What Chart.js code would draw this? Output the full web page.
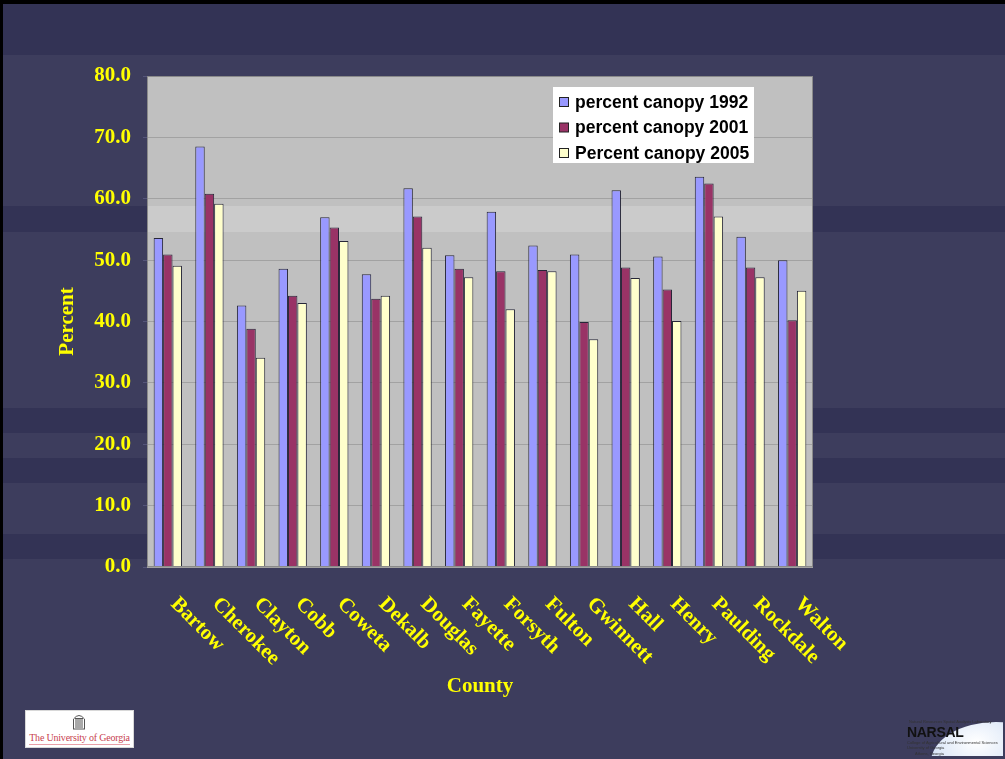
<!DOCTYPE html>
<html lang="en">
<head>
  <meta charset="UTF-8">
  <title>Percent canopy by county</title>
  <script src="https://cdn.jsdelivr.net/npm/chart.js@4.4.1/dist/chart.umd.min.js"></script>
  <style>
    body { margin: 0; background: #3d3d5d; overflow: hidden; }
    #wrap { position: relative; width: 1005px; height: 759px; }
    #chart { position: absolute; left: 0; top: 0; }
    .uga {
      position: absolute; left: 25px; top: 710px; width: 107px; height: 36px;
      background: #fff; border: 1px solid #d8d8d8;
    }
    .uga svg { position: absolute; left: 46px; top: 2px; }
    .uga span {
      position: absolute; left: 0; width: 107px; top: 21px; text-align: center;
      font: 10px "Liberation Serif", serif; color: #c8424f; letter-spacing: -0.2px;
    }
    .uga i { position: absolute; left: 3px; right: 3px; top: 33px; height: 1px; background: #e8a0a8; }
    .narsal {
      position: absolute; left: 905px; top: 716px; width: 98px; height: 40px; overflow: hidden;
    }
    .narsal .dome {
      position: absolute; left: 26px; top: 6px; width: 130px; height: 80px; border-radius: 50%;
      background: radial-gradient(ellipse at 35% 25%, #ffffff 0%, #dde8f8 35%, #9fb3dd 65%, #5b6aa5 100%);
    }
    .narsal b {
      position: absolute; left: 2px; top: 8px; font: bold 14px "Liberation Sans", sans-serif; color: #111;
      letter-spacing: -0.3px;
    }
    .narsal small {
      position: absolute; font: 4px "Liberation Sans", sans-serif; color: #333; white-space: nowrap;
    }
  </style>
</head>
<body>
<div id="wrap">
  <canvas id="chart" width="1005" height="759"></canvas>
  <div class="uga">
    <svg width="14" height="17" viewBox="0 0 14 17">
      <path d="M1.5 16 V6 Q7 -1 12.5 6 V16" fill="none" stroke="#555" stroke-width="1"/>
      <path d="M4 15 V6 M6 15 V5 M8 15 V5 M10 15 V6 M1 16 H13 M3 5.5 H11" stroke="#555" stroke-width="1"/>
    </svg>
    <span>The University of Georgia</span>
    <i></i>
  </div>
  <div class="narsal">
    <div class="dome"></div>
    <small style="left:4px;top:3px">Natural Resources Spatial Analysis Laboratory</small>
    <b>NARSAL</b>
    <small style="left:2px;top:24px">College of Agricultural and Environmental Sciences</small>
    <small style="left:2px;top:29px">University of Georgia</small>
    <small style="left:10px;top:35px">Athens, Georgia</small>
  </div>
</div>

<script>
  // DATA
  const counties = ["Bartow", "Cherokee", "Clayton", "Cobb", "Coweta", "Dekalb", "Douglas", "Fayette",
                    "Forsyth", "Fulton", "Gwinnett", "Hall", "Henry", "Paulding", "Rockdale", "Walton"];
  const canopy1992 = [53.6, 68.5, 42.6, 48.6, 57.0, 47.7, 61.7, 50.8, 57.9, 52.4, 50.9, 61.4, 50.6, 63.6, 53.8, 50.0];
  const canopy2001 = [50.9, 60.8, 38.8, 44.2, 55.3, 43.7, 57.1, 48.6, 48.2, 48.4, 39.9, 48.8, 45.2, 62.5, 48.8, 40.2];
  const canopy2005 = [49.1, 59.2, 34.1, 43.0, 53.1, 44.2, 52.0, 47.2, 42.0, 48.2, 37.1, 47.1, 40.1, 57.1, 47.2, 45.0];
  const seriesNames = ["percent canopy 1992", "percent canopy 2001", "Percent canopy 2005"];
  const yMin = 0, yMax = 80, yStep = 10;

  // slide styling
  const yellow = "#ffff00";
  const serif = "'Liberation Serif', 'Times New Roman', serif";
  const darkBands = [[4, 55], [206, 232], [408, 433], [458, 483], [534, 559]];

  // background of the slide + plot wall
  const slideBackground = {
    id: "slideBackground",
    beforeDraw(chart) {
      const ctx = chart.ctx, a = chart.chartArea;
      ctx.save();
      ctx.fillStyle = "#3d3d5d";
      ctx.fillRect(0, 0, chart.width, chart.height);
      ctx.fillStyle = "#333355";
      darkBands.forEach(b => ctx.fillRect(0, b[0], chart.width, b[1] - b[0]));
      // black frame top / left
      ctx.fillStyle = "#000";
      ctx.fillRect(0, 0, chart.width, 4);
      ctx.fillRect(0, 0, 3, chart.height);
      // plot wall
      ctx.fillStyle = "#c0c0c0";
      ctx.fillRect(a.left, a.top, a.right - a.left, a.bottom - a.top);
      ctx.fillStyle = "#cbcbcb";
      ctx.fillRect(a.left, 206, a.right - a.left, 26);
      ctx.restore();
    }
  };

  // plot border, legend inside plot, slanted county labels
  const slideOverlay = {
    id: "slideOverlay",
    afterDraw(chart) {
      const ctx = chart.ctx, a = chart.chartArea;
      ctx.save();
      ctx.strokeStyle = "#8a8a8a";
      ctx.lineWidth = 1;
      ctx.strokeRect(a.left + 0.5, a.top + 0.5, a.right - a.left - 1, a.bottom - a.top - 1);

      // legend
      ctx.fillStyle = "#ffffff";
      ctx.fillRect(553, 87, 201, 76);
      ctx.font = "bold 17.5px 'Liberation Sans', Arial, sans-serif";
      ctx.textBaseline = "middle";
      ctx.textAlign = "left";
      chart.data.datasets.forEach((ds, i) => {
        const y = 102 + i * 25.5;
        ctx.fillStyle = ds.backgroundColor;
        ctx.fillRect(559.5, y - 4.5, 9, 9);
        ctx.strokeStyle = "#222";
        ctx.strokeRect(559.5, y - 4.5, 9, 9);
        ctx.fillStyle = "#000";
        ctx.fillText(ds.label, 575, y + 1);
      });

      // county labels
      const xs = chart.scales.x;
      ctx.fillStyle = yellow;
      ctx.font = "bold 21px " + serif;
      counties.forEach((c, i) => {
        const x = xs.getPixelForValue(i) + 6;
        const y = a.bottom + 34;
        ctx.save();
        ctx.translate(x, y);
        ctx.rotate(Math.PI / 4);
        ctx.fillText(c, 0, 0);
        ctx.restore();
      });
      ctx.restore();
    }
  };

  const barStyle = { borderColor: "#262638", borderWidth: 1, categoryPercentage: 0.68, barPercentage: 1.0 };

  new Chart("chart", {
    type: "bar",
    data: {
      labels: counties,
      datasets: [
        Object.assign({ label: seriesNames[0], data: canopy1992, backgroundColor: "#9999ff" }, barStyle),
        Object.assign({ label: seriesNames[1], data: canopy2001, backgroundColor: "#993366" }, barStyle),
        Object.assign({ label: seriesNames[2], data: canopy2005, backgroundColor: "#ffffcc" }, barStyle)
      ]
    },
    options: {
      responsive: false,
      animation: false,
      layout: { padding: { top: 76, right: 192, bottom: 0, left: 0 } },
      plugins: { legend: { display: false }, tooltip: { enabled: false } },
      scales: {
        x: {
          grid: { display: false },
          border: { display: false },
          ticks: { display: false },
          title: { display: true, text: "County", color: yellow,
                   font: { family: serif, size: 21, weight: "bold" }, padding: { top: 0, bottom: 60 } },
          afterFit: (scale) => { scale.height = 192; }
        },
        y: {
          min: yMin, max: yMax,
          grid: { color: "#a2a2a2", tickColor: "#55557a", tickLength: 4 },
          border: { display: false },
          ticks: { stepSize: yStep, color: yellow, padding: 12,
                   font: { family: serif, size: 21, weight: "bold" },
                   callback: (v) => v.toFixed(1) },
          title: { display: true, text: "Percent", color: yellow,
                   font: { family: serif, size: 21, weight: "bold" }, padding: { top: 55, bottom: 0 } },
          afterFit: (scale) => { scale.width = 147; }
        }
      }
    },
    plugins: [slideBackground, slideOverlay]
  });
</script>
</body>
</html>
